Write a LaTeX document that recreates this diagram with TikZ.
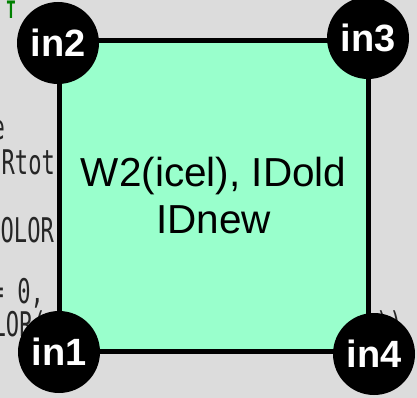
\documentclass[tikz,border=0pt]{standalone}
\usepackage{fontspec}
\setmainfont{Liberation Sans}
\newfontfamily\codefont{DejaVu Sans Mono}
\definecolor{mint}{RGB}{153,255,204}
\definecolor{paper}{RGB}{220,220,220}
\definecolor{codegreen}{RGB}{0,128,0}
\tikzset{
  codetext/.style={anchor=base east, inner sep=0pt, xscale=0.65, text=black!85, font=\codefont\fontsize{34}{34}\selectfont},
  corner/.style={circle, fill=black, minimum size=82pt, inner sep=0pt, text=white, font=\bfseries\fontsize{38}{38}\selectfont},
}
\begin{document}
\begin{tikzpicture}[x=1pt, y=-1pt]
\fill[paper] (0,0) rectangle (417,398);
\useasboundingbox (0,0) rectangle (417,398);
\clip (0,0) rectangle (417,398);
% code lines behind the cell
\node[codetext, text=codegreen, font=\codefont\bfseries\fontsize{24}{24}\selectfont, anchor=base] (cg) at (11,19) {T};
\node[codetext] (c1) at (5,140) {e};
\node[codetext] (c2) at (55,175) {Rtot};
\node[codetext] (c3) at (54,242) {COLOR};
\node[codetext] (c4) at (44,303) {= 0,};
\node[codetext] (c5) at (46,336) {COLOR(};
\node[codetext, anchor=base west] (c6) at (376,336) {))};
% cell
\node[draw, line width=5pt, fill=mint, minimum width=308.5pt, minimum height=310pt, align=center, font=\fontsize{40.5}{47}\selectfont] (cell) at (213.75,196) {W2(icel), IDold\\IDnew};
% corners
\node[corner] (in1) at (59,352) {in1};
\node[corner] (in2) at (58,43) {in2};
\node[corner] (in3) at (368,38) {in3};
\node[corner] (in4) at (374,354) {in4};
\end{tikzpicture}
\end{document}
